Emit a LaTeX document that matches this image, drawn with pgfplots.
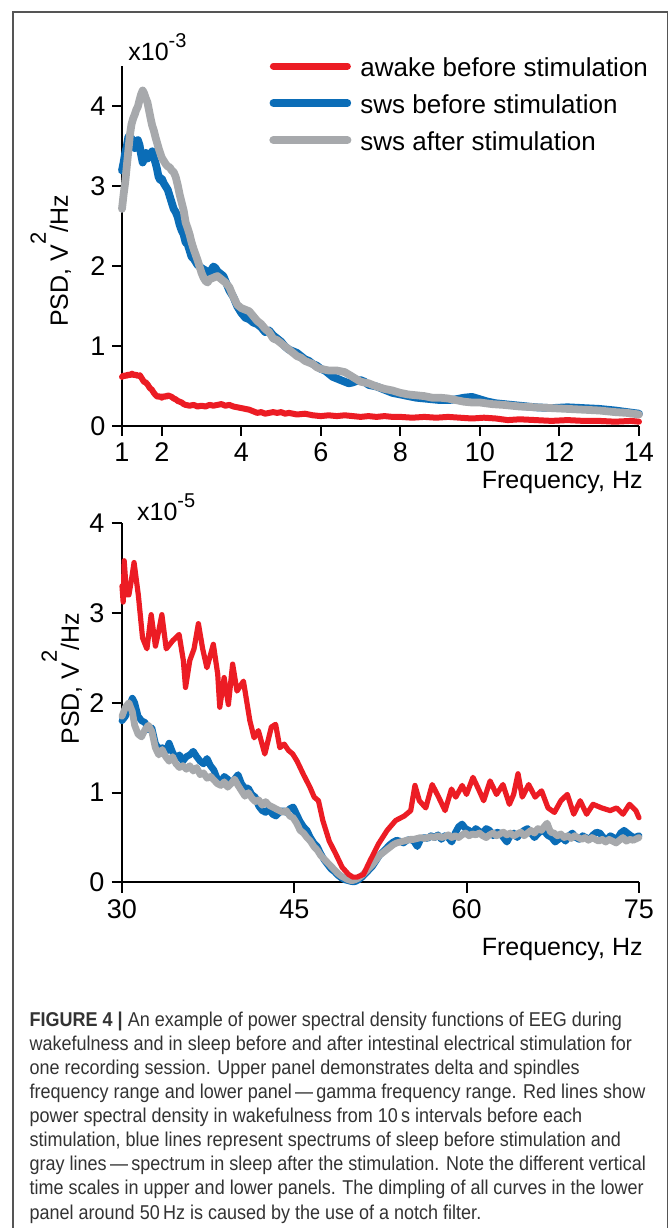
\documentclass[border=0pt]{standalone}
\usepackage{pgfplots}
\pgfplotsset{compat=1.18}
\usepackage{fontspec}
\setmainfont{Liberation Sans}
\newfontfamily\captfont{Liberation Sans}[FakeStretch=0.9, Ligatures=TeX]

\definecolor{awakec}{HTML}{EC1C24}
\definecolor{swsbc}{HTML}{0B6DB7}
\definecolor{swsac}{HTML}{A7A9AC}
\definecolor{framec}{HTML}{555555}
\definecolor{captc}{HTML}{333333}

\newcommand{\figfont}{\fontsize{12.5}{14}\selectfont}

\pgfplotsset{
  psd/.style={
    scale only axis, anchor=south west, clip=false,
    axis x line*=bottom, axis y line*=left,
    axis line style={line width=1pt, -},
    tick align=outside, major tick length=4.75pt,
    tick style={black, line width=1pt},
    tick label style={font=\fontsize{13.5}{15}\selectfont},
    /pgf/number format/assume math mode=true,
    every axis plot/.append style={line join=round, line cap=round},
  },
}

\begin{document}
\begin{tikzpicture}
\useasboundingbox (0pt,0pt) rectangle (334.5pt,614pt);
\fill[white] (0pt,0pt) rectangle (334.5pt,614pt);
\draw[framec, line width=0.75pt] (6.5pt,0pt) -- (6.5pt,608pt) -- (333.75pt,608pt) -- (333.75pt,0pt);

% ---------- upper panel: delta / spindle range (x10^-3)
\begin{axis}[psd,
  at={(61pt,400.75pt)}, width=258.5pt, height=180pt,
  xmin=1, xmax=14, ymin=0, ymax=4.5,
  xtick={1,2,4,6,8,10,12,14}, ytick={0,1,2,3,4},
  legend style={draw=none, fill=none, inner sep=0pt, row sep=0pt, column sep=4.5pt,
    at={(rel axis cs:0.2843,1.028)}, anchor=north west,
    font=\fontsize{13}{15}\selectfont,
    nodes={inner sep=0pt, text height=10pt, text depth=8.5pt}},
  legend cell align=left,
  legend image code/.code={\draw[#1] (0pt,4.6pt) -- (37pt,4.6pt);},
]
\addplot[swsbc, line width=3.9pt, forget plot] coordinates {
(1.00,3.20)(1.04,3.30)(1.08,3.42)(1.12,3.50)(1.16,3.62)(1.20,3.55)(1.24,3.60)(1.28,3.52)
(1.32,3.48)(1.36,3.55)(1.40,3.58)(1.44,3.52)(1.48,3.40)(1.52,3.30)(1.56,3.36)(1.60,3.42)
(1.64,3.35)(1.68,3.40)(1.72,3.38)(1.76,3.44)(1.80,3.36)(1.84,3.30)(1.88,3.22)(1.92,3.12)
(1.96,3.08)(2.00,3.10)(2.05,3.04)(2.10,3.00)(2.15,2.96)(2.20,2.88)(2.25,2.80)(2.30,2.72)
(2.35,2.68)(2.40,2.62)(2.45,2.52)(2.50,2.45)(2.55,2.40)(2.60,2.30)(2.65,2.28)(2.70,2.20)
(2.75,2.12)(2.80,2.10)(2.85,2.06)(2.90,2.02)(3.00,1.98)(3.10,1.95)(3.20,1.92)(3.25,1.96)
(3.30,2.00)(3.35,1.98)(3.40,1.94)(3.50,1.90)(3.55,1.88)(3.60,1.82)(3.70,1.70)(3.80,1.62)
(3.90,1.50)(4.00,1.42)(4.10,1.36)(4.20,1.34)(4.30,1.30)(4.40,1.28)(4.50,1.24)(4.60,1.18)
(4.70,1.20)(4.80,1.14)(4.90,1.10)(5.00,1.06)(5.10,1.00)(5.20,0.96)(5.30,0.94)(5.40,0.92)
(5.50,0.88)(5.60,0.84)(5.70,0.82)(5.80,0.78)(5.90,0.76)(6.00,0.72)(6.10,0.70)(6.20,0.66)
(6.30,0.62)(6.40,0.60)(6.50,0.58)(6.60,0.56)(6.70,0.54)(6.80,0.55)(6.90,0.57)(7.00,0.58)
(7.10,0.56)(7.20,0.52)(7.40,0.50)(7.60,0.46)(7.80,0.42)(8.00,0.40)(8.20,0.38)(8.40,0.36)
(8.60,0.35)(8.80,0.34)(9.00,0.33)(9.20,0.33)(9.40,0.34)(9.60,0.36)(9.80,0.37)(10.00,0.34)
(10.20,0.31)(10.40,0.29)(10.60,0.28)(10.80,0.27)(11.00,0.26)(11.40,0.24)(11.80,0.23)
(12.20,0.24)(12.60,0.23)(13.00,0.22)(13.40,0.20)(13.70,0.18)(14.00,0.16)};
\addplot[swsac, line width=3.9pt, forget plot] coordinates {
(1.00,2.72)(1.04,2.90)(1.08,3.05)(1.12,3.25)(1.16,3.45)(1.20,3.65)(1.24,3.78)(1.28,3.85)
(1.32,3.90)(1.36,3.96)(1.40,4.00)(1.44,4.08)(1.48,4.15)(1.52,4.20)(1.56,4.16)(1.60,4.10)
(1.64,4.05)(1.68,3.95)(1.72,3.85)(1.76,3.76)(1.80,3.70)(1.84,3.62)(1.88,3.55)(1.92,3.48)
(1.96,3.42)(2.00,3.36)(2.05,3.32)(2.10,3.28)(2.15,3.25)(2.20,3.24)(2.25,3.20)(2.30,3.18)
(2.35,3.12)(2.40,3.02)(2.45,2.90)(2.50,2.80)(2.55,2.70)(2.60,2.55)(2.65,2.48)(2.70,2.40)
(2.75,2.30)(2.80,2.22)(2.85,2.15)(2.90,2.08)(2.95,2.00)(3.00,1.92)(3.05,1.86)(3.10,1.82)
(3.15,1.80)(3.20,1.84)(3.30,1.86)(3.40,1.88)(3.50,1.84)(3.60,1.80)(3.70,1.74)(3.80,1.62)
(3.90,1.52)(4.00,1.48)(4.10,1.46)(4.20,1.44)(4.30,1.38)(4.40,1.32)(4.50,1.28)(4.60,1.22)
(4.70,1.18)(4.80,1.10)(4.90,1.08)(5.00,1.04)(5.10,1.00)(5.20,0.96)(5.30,0.92)(5.40,0.88)
(5.50,0.86)(5.60,0.82)(5.70,0.80)(5.80,0.78)(5.90,0.74)(6.00,0.72)(6.20,0.70)(6.40,0.70)
(6.60,0.68)(6.80,0.62)(7.00,0.56)(7.20,0.54)(7.40,0.50)(7.60,0.47)(7.80,0.45)(8.00,0.42)
(8.20,0.40)(8.40,0.39)(8.60,0.38)(8.80,0.36)(9.00,0.36)(9.20,0.35)(9.40,0.33)(9.60,0.31)
(9.80,0.30)(10.00,0.30)(10.30,0.28)(10.60,0.27)(11.00,0.25)(11.40,0.24)(11.80,0.23)
(12.20,0.22)(12.60,0.21)(13.00,0.20)(13.40,0.18)(13.70,0.17)(14.00,0.15)};
\addplot[awakec, line width=3pt, forget plot] coordinates {
(1.00,0.62)(1.05,0.64)(1.10,0.63)(1.15,0.65)(1.20,0.64)(1.25,0.66)(1.30,0.64)(1.35,0.65)
(1.40,0.63)(1.45,0.64)(1.50,0.60)(1.55,0.56)(1.60,0.55)(1.65,0.52)(1.70,0.48)(1.75,0.46)
(1.80,0.42)(1.85,0.39)(1.90,0.37)(1.95,0.38)(2.00,0.36)(2.05,0.38)(2.10,0.37)(2.15,0.39)
(2.20,0.38)(2.25,0.37)(2.30,0.35)(2.35,0.34)(2.40,0.32)(2.50,0.30)(2.55,0.28)(2.60,0.27)
(2.70,0.26)(2.80,0.27)(2.90,0.25)(3.00,0.26)(3.10,0.25)(3.20,0.27)(3.30,0.26)(3.40,0.27)
(3.50,0.28)(3.60,0.26)(3.70,0.27)(3.80,0.25)(3.90,0.24)(4.00,0.23)(4.10,0.22)(4.20,0.21)
(4.30,0.19)(4.40,0.17)(4.50,0.18)(4.60,0.16)(4.70,0.17)(4.80,0.18)(4.90,0.17)(5.00,0.18)
(5.10,0.16)(5.20,0.17)(5.40,0.15)(5.60,0.16)(5.80,0.14)(6.00,0.13)(6.20,0.14)(6.40,0.13)
(6.60,0.14)(6.80,0.13)(7.00,0.12)(7.20,0.13)(7.40,0.12)(7.60,0.13)(7.80,0.12)(8.00,0.12)
(8.30,0.11)(8.60,0.12)(8.90,0.11)(9.20,0.12)(9.50,0.11)(9.80,0.10)(10.10,0.11)(10.40,0.10)
(10.70,0.08)(11.00,0.09)(11.40,0.08)(11.80,0.07)(12.20,0.08)(12.60,0.07)(13.00,0.07)
(13.40,0.06)(13.80,0.07)(14.00,0.06)};
\addlegendimage{awakec, line width=3.5pt}
\addlegendentry{awake before stimulation}
\addlegendimage{swsbc, line width=3.8pt}
\addlegendentry{sws before stimulation}
\addlegendimage{swsac, line width=4pt}
\addlegendentry{sws after stimulation}
\node[anchor=base west, font=\fontsize{12.5}{14}\selectfont, inner sep=0pt]
  at ([xshift=3pt, yshift=2.9pt]rel axis cs:0,1) {x10\raisebox{6.5pt}{\fontsize{10}{11}\selectfont -3}};
\node[rotate=90, anchor=base, font=\figfont, inner sep=0pt]
  at ([xshift=-27pt]rel axis cs:0,0.46) {PSD, V\raisebox{11pt}{\fontsize{11}{12}\selectfont 2}/Hz};
\node[anchor=base east, font=\figfont, inner sep=0pt]
  at ([xshift=2pt, yshift=-31pt]rel axis cs:1,0) {Frequency, Hz};
\end{axis}

% ---------- lower panel: gamma range (x10^-5)
\begin{axis}[psd,
  at={(61pt,172.75pt)}, width=258.5pt, height=179.75pt,
  xmin=30, xmax=75, ymin=0, ymax=4,
  xtick={30,45,60,75}, ytick={0,1,2,3,4},
  major tick length=5.25pt,
]
\addplot[swsbc, line width=3.4pt] coordinates {
(30.0,1.80)(30.3,1.85)(30.6,1.95)(30.9,2.05)(31.1,2.00)(31.4,1.85)(31.7,1.80)(32.0,1.78)
(32.3,1.70)(32.6,1.72)(32.9,1.55)(33.2,1.48)(33.5,1.50)(33.8,1.45)(34.1,1.55)(34.4,1.45)
(34.7,1.38)(35.0,1.42)(35.3,1.35)(35.6,1.40)(35.9,1.42)(36.2,1.46)(36.5,1.40)(36.8,1.35)
(37.1,1.32)(37.4,1.38)(37.7,1.30)(38.0,1.25)(38.3,1.15)(38.6,1.12)(38.9,1.18)(39.2,1.15)
(39.5,1.10)(39.8,1.15)(40.1,1.20)(40.4,1.10)(40.7,1.05)(41.0,1.05)(41.3,0.98)(41.6,0.95)
(41.9,0.85)(42.2,0.80)(42.5,0.78)(42.8,0.82)(43.1,0.76)(43.4,0.74)(43.7,0.78)(44.0,0.80)
(44.3,0.78)(44.6,0.82)(44.9,0.84)(45.2,0.76)(45.5,0.68)(45.8,0.62)(46.1,0.58)(46.4,0.50)
(46.7,0.44)(47.0,0.40)(47.3,0.32)(47.6,0.25)(47.9,0.20)(48.2,0.15)(48.5,0.12)(48.8,0.08)
(49.1,0.05)(49.4,0.03)(49.7,0.02)(50.0,0.01)(50.3,0.01)(50.6,0.03)(50.9,0.06)(51.2,0.10)
(51.5,0.14)(51.8,0.18)(52.1,0.24)(52.4,0.30)(52.7,0.34)(53.0,0.38)(53.3,0.42)(53.6,0.45)
(53.9,0.47)(54.2,0.46)(54.5,0.44)(54.8,0.47)(55.1,0.48)(55.4,0.46)(55.7,0.40)(56.0,0.48)
(56.3,0.50)(56.6,0.49)(56.9,0.52)(57.2,0.50)(57.5,0.53)(57.8,0.48)(58.1,0.52)(58.4,0.50)
(58.7,0.45)(59.0,0.55)(59.3,0.62)(59.6,0.65)(59.9,0.60)(60.2,0.58)(60.5,0.55)(60.8,0.60)
(61.1,0.57)(61.4,0.55)(61.7,0.60)(62.0,0.58)(62.3,0.52)(62.6,0.56)(62.9,0.55)(63.2,0.50)
(63.5,0.45)(63.8,0.52)(64.1,0.55)(64.4,0.50)(64.7,0.55)(65.0,0.58)(65.3,0.60)(65.6,0.55)
(65.9,0.50)(66.2,0.54)(66.5,0.58)(66.8,0.56)(67.1,0.52)(67.4,0.50)(67.7,0.45)(68.0,0.48)
(68.3,0.50)(68.6,0.46)(68.9,0.52)(69.2,0.55)(69.5,0.50)(69.8,0.48)(70.1,0.52)(70.4,0.50)
(70.7,0.48)(71.0,0.53)(71.3,0.56)(71.6,0.55)(71.9,0.50)(72.2,0.48)(72.5,0.52)(72.8,0.50)
(73.1,0.48)(73.4,0.55)(73.7,0.58)(74.0,0.55)(74.3,0.52)(74.6,0.50)(75.0,0.52)};
\addplot[swsac, line width=3.4pt] coordinates {
(30.0,1.85)(30.3,1.95)(30.6,2.00)(30.9,1.90)(31.1,1.75)(31.4,1.65)(31.7,1.62)(32.0,1.70)
(32.3,1.75)(32.6,1.68)(32.9,1.50)(33.2,1.42)(33.5,1.48)(33.8,1.40)(34.1,1.35)(34.4,1.40)
(34.7,1.32)(35.0,1.28)(35.3,1.30)(35.6,1.26)(35.9,1.30)(36.2,1.24)(36.5,1.28)(36.8,1.20)
(37.1,1.22)(37.4,1.16)(37.7,1.18)(38.0,1.14)(38.3,1.10)(38.6,1.08)(38.9,1.12)(39.2,1.06)
(39.5,1.10)(39.8,1.15)(40.1,1.08)(40.4,1.02)(40.7,0.96)(41.0,1.00)(41.3,0.94)(41.6,0.90)
(41.9,0.92)(42.2,0.86)(42.5,0.90)(42.8,0.86)(43.1,0.84)(43.4,0.82)(43.7,0.80)(44.0,0.78)
(44.3,0.80)(44.6,0.74)(44.9,0.72)(45.2,0.66)(45.5,0.58)(45.8,0.55)(46.1,0.50)(46.4,0.46)
(46.7,0.40)(47.0,0.36)(47.3,0.30)(47.6,0.26)(47.9,0.22)(48.2,0.18)(48.5,0.14)(48.8,0.10)
(49.1,0.07)(49.4,0.05)(49.7,0.03)(50.0,0.02)(50.3,0.03)(50.6,0.05)(50.9,0.08)(51.2,0.12)
(51.5,0.16)(51.8,0.20)(52.1,0.25)(52.4,0.30)(52.7,0.33)(53.0,0.36)(53.3,0.39)(53.6,0.42)
(53.9,0.44)(54.2,0.45)(54.5,0.46)(54.8,0.47)(55.1,0.48)(55.4,0.48)(55.7,0.49)(56.0,0.50)
(56.3,0.49)(56.6,0.50)(56.9,0.51)(57.2,0.50)(57.5,0.52)(57.8,0.50)(58.1,0.51)(58.4,0.53)
(58.7,0.50)(59.0,0.52)(59.3,0.50)(59.6,0.53)(59.9,0.55)(60.2,0.52)(60.5,0.54)(60.8,0.53)
(61.1,0.55)(61.4,0.52)(61.7,0.50)(62.0,0.53)(62.3,0.55)(62.6,0.52)(62.9,0.54)(63.2,0.56)
(63.5,0.53)(63.8,0.55)(64.1,0.52)(64.4,0.54)(64.7,0.56)(65.0,0.52)(65.3,0.55)(65.6,0.58)
(65.9,0.55)(66.2,0.60)(66.5,0.58)(66.8,0.63)(67.0,0.66)(67.3,0.56)(67.6,0.55)(67.9,0.52)
(68.2,0.54)(68.5,0.50)(68.8,0.52)(69.1,0.49)(69.4,0.52)(69.7,0.50)(70.0,0.48)(70.3,0.50)
(70.6,0.47)(70.9,0.50)(71.2,0.48)(71.5,0.46)(71.8,0.48)(72.1,0.45)(72.4,0.48)(72.7,0.46)
(73.0,0.44)(73.3,0.47)(73.6,0.50)(73.9,0.46)(74.2,0.48)(74.5,0.47)(75.0,0.50)};
\addplot[awakec, line width=2.6pt] coordinates {
(30.00,3.30)(30.10,3.12)(30.19,3.58)(30.40,3.20)(30.60,3.20)(30.80,3.35)(31.05,3.56)
(31.42,3.20)(31.79,2.72)(32.17,2.60)(32.54,2.98)(32.91,2.63)(33.20,2.80)(33.47,2.98)
(33.85,2.60)(34.41,2.69)(34.97,2.76)(35.34,2.47)(35.53,2.17)(35.90,2.47)(36.27,2.60)
(36.65,2.88)(37.02,2.60)(37.39,2.39)(37.95,2.65)(38.33,2.32)(38.51,1.95)(38.89,2.28)
(39.26,1.98)(39.63,2.43)(40.01,2.13)(40.57,2.24)(41.13,1.80)(41.50,1.61)(41.87,1.69)
(42.43,1.43)(43.00,1.73)(43.37,1.76)(43.74,1.50)(44.12,1.54)(44.49,1.47)(44.86,1.43)
(45.24,1.35)(45.80,1.20)(46.36,1.06)(46.73,0.95)(47.10,0.91)(47.48,0.69)(48.04,0.46)
(48.60,0.32)(49.16,0.17)(49.72,0.09)(50.10,0.06)(50.46,0.06)(51.02,0.09)(51.58,0.24)
(52.33,0.43)(53.08,0.58)(53.82,0.69)(54.57,0.74)(55.13,0.80)(55.50,1.08)(55.88,0.91)
(56.44,0.83)(57.00,1.09)(57.56,0.95)(58.12,0.80)(58.68,1.04)(59.05,0.95)(59.61,1.08)
(59.99,0.98)(60.55,1.17)(61.10,1.02)(61.48,0.91)(62.04,1.13)(62.60,0.98)(63.16,1.09)
(63.72,0.87)(64.09,0.98)(64.47,1.21)(64.84,0.95)(65.40,1.09)(65.96,0.95)(66.52,1.02)
(67.08,0.83)(67.64,0.78)(68.20,0.91)(68.76,0.98)(69.32,0.76)(69.88,0.91)(70.44,0.76)
(71.00,0.87)(71.75,0.83)(72.49,0.80)(73.05,0.83)(73.61,0.76)(74.17,0.87)(74.73,0.80)
(75.00,0.72)};
\node[anchor=base west, font=\fontsize{12.5}{14}\selectfont, inner sep=0pt]
  at ([xshift=7.35pt, yshift=1.15pt]rel axis cs:0,1) {x10\raisebox{6.5pt}{\fontsize{10}{11}\selectfont -5}};
\node[rotate=90, anchor=base, font=\figfont, inner sep=0pt]
  at ([xshift=-21.5pt]rel axis cs:0,0.567) {PSD, V\raisebox{11pt}{\fontsize{11}{12}\selectfont 2}/Hz};
\node[anchor=base east, font=\figfont, inner sep=0pt]
  at ([xshift=2pt, yshift=-36.75pt]rel axis cs:1,0) {Frequency, Hz};
\end{axis}

% ---------- caption
\begin{scope}[every node/.style={anchor=base west, inner sep=0pt, text=captc, font=\captfont\fontsize{10}{12}\selectfont}]
\node at (14.65pt,100.5pt) {\textbf{FIGURE 4 |} An example of power spectral density functions of EEG during};
\node at (14.65pt,88.5pt) {wakefulness and in sleep before and after intestinal electrical stimulation for};
\node at (14.65pt,76.5pt) {one recording session. Upper panel demonstrates delta and spindles};
\node at (14.65pt,64.5pt) {frequency range and lower panel\,—\,gamma frequency range. Red lines show};
\node at (14.65pt,52.5pt) {power spectral density in wakefulness from 10\,s intervals before each};
\node at (14.65pt,40.5pt) {stimulation, blue lines represent spectrums of sleep before stimulation and};
\node at (14.65pt,28.5pt) {gray lines\,—\,spectrum in sleep after the stimulation. Note the different vertical};
\node at (14.65pt,16.5pt) {time scales in upper and lower panels. The dimpling of all curves in the lower};
\node at (14.65pt,4.5pt) {panel around 50\,Hz is caused by the use of a notch filter.};
\end{scope}
\end{tikzpicture}
\end{document}
